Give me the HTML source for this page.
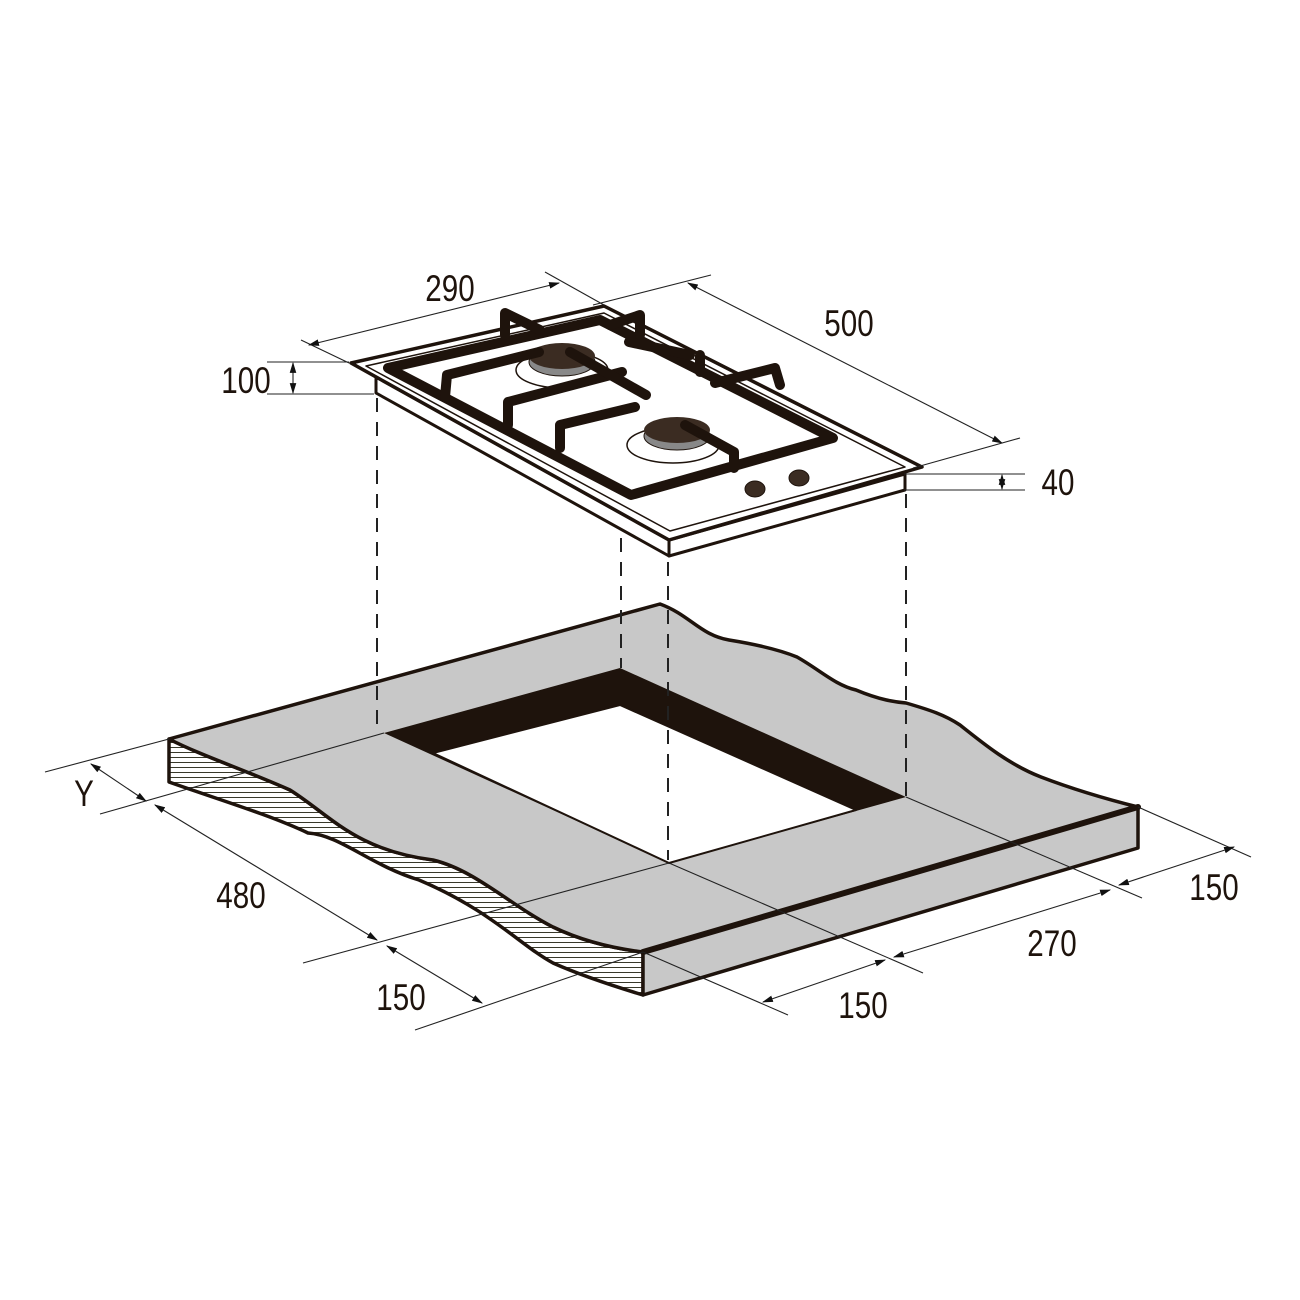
<!DOCTYPE html>
<html><head><meta charset="utf-8"><style>html,body{margin:0;padding:0;background:#fff}svg{display:block}</style></head>
<body>
<svg width="1300" height="1300" viewBox="0 0 1300 1300" xmlns="http://www.w3.org/2000/svg">
<defs>
<pattern id="h" width="6" height="5" patternUnits="userSpaceOnUse"><rect width="6" height="5" fill="#fff"/><line x1="0" y1="2.5" x2="6" y2="2.5" stroke="#221" stroke-width="0.9"/></pattern>
<marker id="a" markerWidth="10" markerHeight="6" refX="9" refY="3" orient="auto"><path d="M0,0 L10,3 L0,6 z" fill="#111"/></marker>
<marker id="b" markerWidth="10" markerHeight="6" refX="1" refY="3" orient="auto"><path d="M10,0 L0,3 L10,6 z" fill="#111"/></marker>
</defs>
<g stroke-linejoin="round" stroke-linecap="round">
<path d="M169,739 C200,755 245,770 290,790 C330,815 355,850 433,860 C475,870 510,905 553,927 C580,940 610,948 643,952 L643,995 C610,985 580,975 553,963 C520,945 490,910 419,880 C370,865 340,835 308,833 C270,815 220,800 169,782 Z" fill="url(#h)" stroke="#1e130c" stroke-width="3.5"/>
<path d="M169,739 L660,604 C690,615 700,635 729,640 C760,645 780,650 797,657 C820,670 835,685 856,690 C880,700 895,702 906,703 C930,710 945,715 960,725 C985,745 1010,765 1041,777 C1075,790 1110,800 1138,807 L643,952 C610,948 580,940 553,927 C510,905 475,870 433,860 C355,850 330,815 290,790 C245,770 200,755 169,739 Z" fill="#c8c8c8" stroke="#1e130c" stroke-width="3.5"/>
<path d="M643,952 L1138,807 L1138,848 L643,995 Z" fill="#c8c8c8" stroke="#1e130c" stroke-width="3.5"/>
<line x1="643" y1="952" x2="1138" y2="807" stroke="#1e130c" stroke-width="6"/>
<path d="M384,733 L620,668 L906,797 L669,863 Z" fill="#1e130c"/>
<path d="M433,753 L620,705 L856,810 L669,863 Z" fill="#fff" stroke="#1e130c" stroke-width="2"/>
</g>
<g stroke="#222" stroke-width="1.1" fill="none">
<line x1="169" y1="739" x2="45" y2="772"/>
<line x1="384" y1="733" x2="100" y2="814"/>
<line x1="91" y1="764" x2="146" y2="801" marker-start="url(#b)" marker-end="url(#a)"/>
<line x1="155" y1="805" x2="377" y2="940" marker-start="url(#b)" marker-end="url(#a)"/>
<line x1="669" y1="863" x2="303" y2="963"/>
<line x1="387" y1="946" x2="482" y2="1003" marker-start="url(#b)" marker-end="url(#a)"/>
<line x1="643" y1="952" x2="415" y2="1030"/>
<line x1="669" y1="863" x2="923" y2="973"/>
<line x1="643" y1="952" x2="788" y2="1015"/>
<line x1="763" y1="1002" x2="885" y2="960" marker-start="url(#b)" marker-end="url(#a)"/>
<line x1="906" y1="797" x2="1142" y2="898"/>
<line x1="894" y1="957" x2="1110" y2="890" marker-start="url(#b)" marker-end="url(#a)"/>
<line x1="1138" y1="807" x2="1251" y2="857"/>
<line x1="1119" y1="885" x2="1234" y2="847" marker-start="url(#b)" marker-end="url(#a)"/>
</g>
<g stroke="#222" stroke-width="2" stroke-dasharray="14,10">
<line x1="377" y1="398" x2="377" y2="733"/>
<line x1="621" y1="538" x2="621" y2="668"/>
<line x1="668" y1="562" x2="668" y2="860"/>
<line x1="906" y1="494" x2="906" y2="797"/>
</g>
<g stroke="#1e130c" stroke-linejoin="round" stroke-linecap="round">
<path d="M376,377 L669,540 L905,474 L905,490 L669,556 L376,393 Z" fill="#fff" stroke-width="3"/>
<line x1="669" y1="540" x2="669" y2="556" stroke-width="3"/>
<path d="M351,363 L604,306 L922,467 L669,540 Z" fill="#fff" stroke-width="3.5"/>
<path d="M366,366 L604,313 L905,467 L670,531 Z" fill="none" stroke-width="1.5"/>
<ellipse cx="562" cy="370" rx="46" ry="18" fill="#fff" stroke-width="1.5"/>
<ellipse cx="562" cy="362" rx="33" ry="14" fill="#888" stroke-width="1"/>
<ellipse cx="562" cy="356" rx="33" ry="13" fill="#3b2c22" stroke="none"/>
<ellipse cx="673" cy="445" rx="46" ry="18" fill="#fff" stroke-width="1.5"/>
<ellipse cx="677" cy="436" rx="33" ry="14" fill="#888" stroke-width="1"/>
<ellipse cx="677" cy="430" rx="33" ry="13" fill="#3b2c22" stroke="none"/>
<g fill="none" stroke-width="10">
<path d="M388,368 L600,320 L833,438 L631,495 Z"/>
<path d="M445,397 L447,375 L539,352"/>
<path d="M508,425 L508,402 L622,372"/>
<path d="M560,448 L560,425 L635,407"/>
<path d="M570,352 L646,395"/>
<path d="M629,342 L690,355"/>
<path d="M715,383 L775,368 L780,385"/>
<path d="M685,425 L734,452 L734,468"/>
<path d="M505,335 L505,313 L540,330"/>
<path d="M640,335 L640,315 L610,325"/>
<path d="M700,372 L700,355"/>
</g>
<ellipse cx="755" cy="489" rx="10" ry="8" fill="#3b2c22" stroke-width="1"/>
<ellipse cx="799" cy="478" rx="10" ry="8" fill="#3b2c22" stroke-width="1"/>
</g>
<g stroke="#222" stroke-width="1.1" fill="none">
<line x1="349" y1="363" x2="301" y2="340"/>
<line x1="309" y1="345" x2="559" y2="283" marker-start="url(#b)" marker-end="url(#a)"/>
<line x1="545" y1="272" x2="604" y2="305"/>
<line x1="593" y1="305" x2="711" y2="275"/>
<line x1="688" y1="283" x2="1002" y2="443" marker-start="url(#b)" marker-end="url(#a)"/>
<line x1="913" y1="468" x2="1020" y2="438"/>
<line x1="267" y1="362" x2="349" y2="362"/>
<line x1="267" y1="394" x2="374" y2="394"/>
<line x1="293" y1="363" x2="293" y2="393" marker-start="url(#b)" marker-end="url(#a)"/>
<line x1="904" y1="474" x2="1025" y2="474"/>
<line x1="904" y1="490" x2="1025" y2="490"/>
<line x1="1002" y1="475" x2="1002" y2="489" marker-start="url(#b)" marker-end="url(#a)"/>
</g>
<g font-family="'Liberation Sans', sans-serif" font-size="37" fill="#1e130c" text-anchor="middle">
<text x="450" y="301" transform="translate(450 0) scale(0.8 1) translate(-450 0)">290</text>
<text x="849" y="336" transform="translate(849 0) scale(0.8 1) translate(-849 0)">500</text>
<text x="246" y="393" transform="translate(246 0) scale(0.8 1) translate(-246 0)">100</text>
<text x="1058" y="495" transform="translate(1058 0) scale(0.8 1) translate(-1058 0)">40</text>
<text x="84" y="806" transform="translate(84 0) scale(0.8 1) translate(-84 0)">Y</text>
<text x="241" y="908" transform="translate(241 0) scale(0.8 1) translate(-241 0)">480</text>
<text x="401" y="1010" transform="translate(401 0) scale(0.8 1) translate(-401 0)">150</text>
<text x="863" y="1018" transform="translate(863 0) scale(0.8 1) translate(-863 0)">150</text>
<text x="1052" y="956" transform="translate(1052 0) scale(0.8 1) translate(-1052 0)">270</text>
<text x="1214" y="900" transform="translate(1214 0) scale(0.8 1) translate(-1214 0)">150</text>
</g>
</svg>
</body></html>
